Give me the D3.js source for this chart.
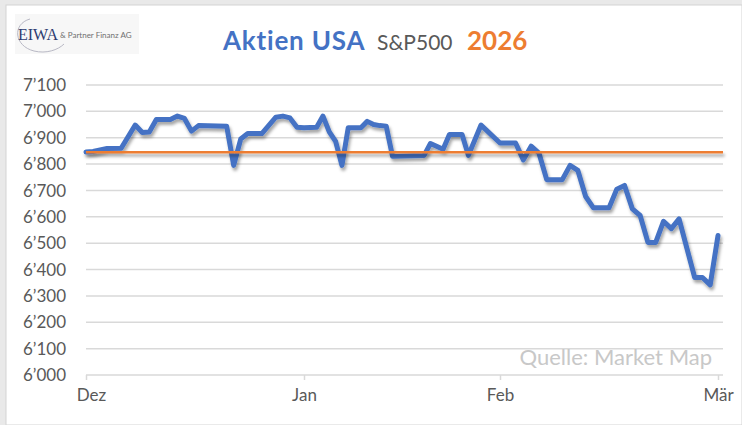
<!DOCTYPE html>
<meta charset="utf-8">
<style>
 body { margin: 0; background: #fff; }
 svg text { font-family: Lato, "Open Sans", sans-serif; }
 .grid line { stroke: #d9d9d9; stroke-width: 1.5px; }
 .axis path, .axis line { stroke: #d9d9d9; stroke-width: 1.5px; }
 .axis text, .ylab { fill: #595959; font-size: 17px; }
</style>
<body>
<div id="chart"></div>
<script src="https://cdn.jsdelivr.net/npm/d3@7"></script>
<script>
// S&P500 Tagesschluss, Referenzlinie Jahresanfang
var dates = [
  "2025-12-01","2025-12-02","2025-12-04","2025-12-06","2025-12-08","2025-12-09","2025-12-10",
  "2025-12-11","2025-12-13","2025-12-14","2025-12-15","2025-12-16","2025-12-17","2025-12-21",
  "2025-12-22","2025-12-23","2025-12-24","2025-12-26","2025-12-28","2025-12-29","2025-12-30",
  "2025-12-31",
  "2026-01-01","2026-01-03","2026-01-04","2026-01-05","2026-01-06","2026-01-07","2026-01-08",
  "2026-01-10","2026-01-11","2026-01-12","2026-01-13","2026-01-14","2026-01-15","2026-01-20",
  "2026-01-21","2026-01-23","2026-01-24","2026-01-26","2026-01-27","2026-01-29",
  "2026-02-01","2026-02-03","2026-02-04","2026-02-05","2026-02-06","2026-02-07","2026-02-09",
  "2026-02-10","2026-02-11","2026-02-12","2026-02-13","2026-02-15","2026-02-16","2026-02-17",
  "2026-02-18","2026-02-19","2026-02-20","2026-02-21","2026-02-22","2026-02-23","2026-02-24",
  "2026-02-26","2026-02-27","2026-02-28",
  "2026-03-01"
];
var values = [
  6846, 6848, 6859, 6860, 6948, 6920, 6922,
  6969, 6969, 6982, 6973, 6925, 6946, 6944,
  6795, 6895, 6916, 6916, 6978, 6982, 6975,
  6940,
  6938, 6940, 6982, 6922, 6886, 6795, 6938,
  6938, 6962, 6950, 6946, 6944, 6830, 6833,
  6878, 6856, 6912, 6912, 6833, 6948,
  6880, 6880, 6816, 6868, 6842, 6741, 6741,
  6795, 6776, 6677, 6634, 6634, 6705, 6719,
  6630, 6605, 6503, 6503, 6583, 6555, 6592,
  6370, 6370, 6342,
  6529
];
var refValue = 6845;
var monthDates = ["2025-12-01","2026-01-01","2026-02-01","2026-03-01"];
var monthLabels = ["Dez","Jan","Feb","Mär"];
var yTicks = [6000,6100,6200,6300,6400,6500,6600,6700,6800,6900,7000,7100];

(function(){
  var width = 742, height = 425;
  var parse = d3.timeParse("%Y-%m-%d");
  var fmt = d3.formatLocale({decimal: ".", thousands: "\u2019", grouping: [3], currency: ["", ""]}).format(",");

  var svg = d3.select("#chart").append("svg")
      .attr("width", width).attr("height", height);

  var defs = svg.append("defs");
  var f = defs.append("filter").attr("id", "shadow")
      .attr("filterUnits", "userSpaceOnUse")
      .attr("x", 0).attr("y", 0).attr("width", width).attr("height", height);
  f.append("feDropShadow").attr("dx", 1.5).attr("dy", 3).attr("stdDeviation", 1.6)
      .attr("flood-color", "#000").attr("flood-opacity", 0.35);

  // Rahmen
  svg.append("rect").attr("width", width).attr("height", height).attr("fill", "#e9e9e9");
  svg.append("rect").attr("x", 6).attr("y", 5).attr("width", width - 6).attr("height", height - 5)
      .attr("fill", "#fff").attr("stroke", "#d4d4d4");

  var x = d3.scaleTime()
      .domain(monthDates.map(parse))
      .range([86, 304, 500, 718]);
  var y = d3.scaleLinear().domain([6000, 7100]).range([375, 85]);
  var x0 = 86, x1 = 723;

  // Gitternetz
  svg.append("g").attr("class", "grid")
    .selectAll("line").data(yTicks.slice(1)).enter().append("line")
      .attr("x1", x0).attr("x2", x1)
      .attr("y1", function(d){ return y(d); }).attr("y2", function(d){ return y(d); });

  svg.selectAll(".ylab").data(yTicks).enter().append("text")
      .attr("class", "ylab")
      .attr("x", 66).attr("y", function(d){ return y(d); })
      .attr("dy", "0.36em").attr("text-anchor", "end")
      .text(function(d){ return fmt(d); });

  // x-Achse
  var xAxis = d3.axisBottom(x)
      .tickValues(monthDates.map(parse))
      .tickFormat(function(d, i){ return monthLabels[i]; })
      .tickSize(5).tickSizeOuter(0).tickPadding(9);
  var gx = svg.append("g").attr("class", "axis").attr("transform", "translate(0," + y(6000) + ")").call(xAxis);
  gx.select(".domain").attr("d", "M" + x0 + ",0H" + x1);
  gx.selectAll("text").attr("fill", "#595959").style("font-size", "17px");
  gx.selectAll(".tick").filter(function(d, i){ return i === 0; }).select("text").attr("dx", 5);

  var data = dates.map(function(d, i){ return {date: parse(d), value: values[i]}; });
  var line = d3.line()
      .x(function(d){ return x(d.date); })
      .y(function(d){ return y(d.value); });
  svg.append("path").datum(data)
      .attr("d", line)
      .attr("fill", "none")
      .attr("stroke", "#4472C4").attr("stroke-width", 5)
      .attr("stroke-linejoin", "round").attr("stroke-linecap", "round")
      .attr("filter", "url(#shadow)");

  // Referenzlinie (liegt über der Kurve)
  svg.append("line")
      .attr("x1", x0).attr("x2", x1)
      .attr("y1", y(refValue)).attr("y2", y(refValue))
      .attr("stroke", "#ED7D31").attr("stroke-width", 2.5)
      .attr("filter", "url(#shadow)");

  svg.append("text").attr("x", 712).attr("y", 365).attr("text-anchor", "end")
      .attr("fill", "#c8c8c8").style("font-size", "22px")
      .text("Quelle: Market Map");

  // Titel
  svg.append("text").attr("x", 223).attr("y", 50)
      .attr("fill", "#4472C4").style("font-size", "26px").style("font-weight", "bold")
      .style("letter-spacing", "0.8px")
      .text("Aktien USA");
  svg.append("text").attr("x", 377).attr("y", 50)
      .attr("fill", "#595959").style("font-size", "21px")
      .text("S&P500");
  svg.append("text").attr("x", 467).attr("y", 50)
      .attr("fill", "#ED7D31").style("font-size", "26px").style("font-weight", "bold")
      .text("2026");

  // Logo
  var logo = svg.append("g");
  logo.append("rect").attr("x", 15).attr("y", 14).attr("width", 124).attr("height", 40).attr("fill", "#f7f7f7");
  logo.append("path")
      .attr("d", "M30,19 C12,24 14,46 34,51 C46,54 58,50 64,44")
      .attr("fill", "none").attr("stroke", "#b8b8c4").attr("stroke-width", 1);
  logo.append("text").attr("x", 18).attr("y", 40)
      .attr("fill", "#2d3b70").style("font-family", "'Liberation Serif', serif").style("font-size", "16px")
      .text("EIWA");
  logo.append("text").attr("x", 60).attr("y", 38)
      .attr("fill", "#707070").style("font-size", "8px")
      .text("& Partner Finanz AG");
})();
</script>
</body>
